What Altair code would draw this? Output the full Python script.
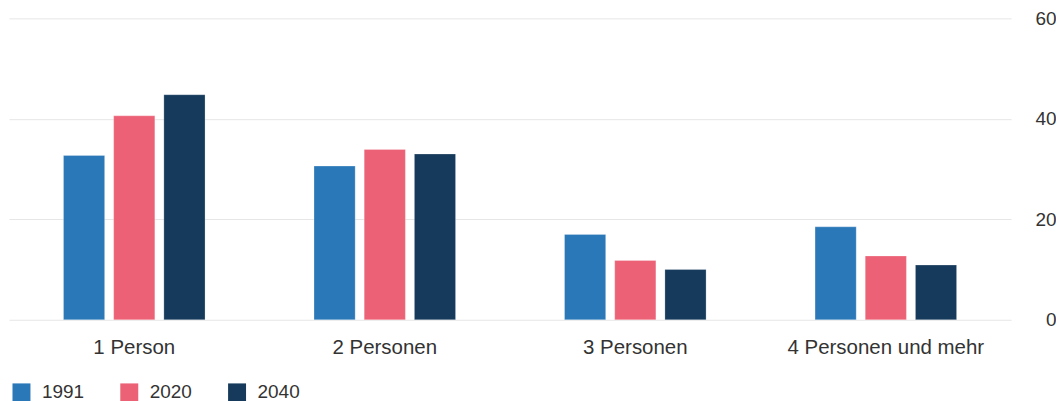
import altair as alt
import pandas as pd

categories = ["1 Person", "2 Personen", "3 Personen", "4 Personen und mehr"]
years = ["1991", "2020", "2040"]
values_1991 = [32.7, 30.6, 17.0, 18.5]
values_2020 = [40.6, 33.9, 11.8, 12.7]
values_2040 = [44.8, 33.0, 10.0, 10.9]
colors = ["#2a78b8", "#ec6175", "#153a5b"]

rows = []
for yr, vals in zip(years, [values_1991, values_2020, values_2040]):
    for c, v in zip(categories, vals):
        rows.append({"Kategorie": c, "Jahr": yr, "Wert": v})
df = pd.DataFrame(rows)

font = "Liberation Sans"

chart = alt.Chart(df).mark_bar(stroke="white", strokeWidth=0.5, strokeOpacity=0.5).encode(
    x=alt.X("Kategorie:N", sort=categories, title=None,
            scale=alt.Scale(paddingInner=0.435, paddingOuter=0.2175),
            axis=alt.Axis(labelAngle=0, tickSize=0, domain=False, labelPadding=18,
                          labelFontSize=20.5, labelColor="#333333", labelFont=font,
                          labelLimit=400)),
    xOffset=alt.XOffset("Jahr:N", sort=years, scale=alt.Scale(paddingInner=0.18, paddingOuter=0.0)),
    y=alt.Y("Wert:Q", title=None, scale=alt.Scale(domain=[0, 60]),
            axis=alt.Axis(orient="right", values=[0, 20, 40, 60], tickSize=0, domain=False,
                          labelPadding=45, labelAlign="right", labelFontSize=19,
                          labelColor="#333333", labelFont=font,
                          gridColor="#e6e6e6", gridWidth=1)),
    color=alt.Color("Jahr:N", sort=years, scale=alt.Scale(domain=years, range=colors),
                    legend=alt.Legend(title=None, orient="none", legendX=3, legendY=365,
                                      direction="horizontal", symbolType="square",
                                      symbolSize=324, symbolStrokeWidth=0,
                                      labelFontSize=19, labelColor="#333333", labelFont=font,
                                      columnPadding=35, labelOffset=11)),
).properties(
    width=1004, height=302,
    padding={"left": 1, "top": 1, "right": 0, "bottom": 0},
).configure_view(stroke=None).configure_axis(labelFont=font)

chart.save("out.html", embed_options={"renderer": "svg", "actions": False})
